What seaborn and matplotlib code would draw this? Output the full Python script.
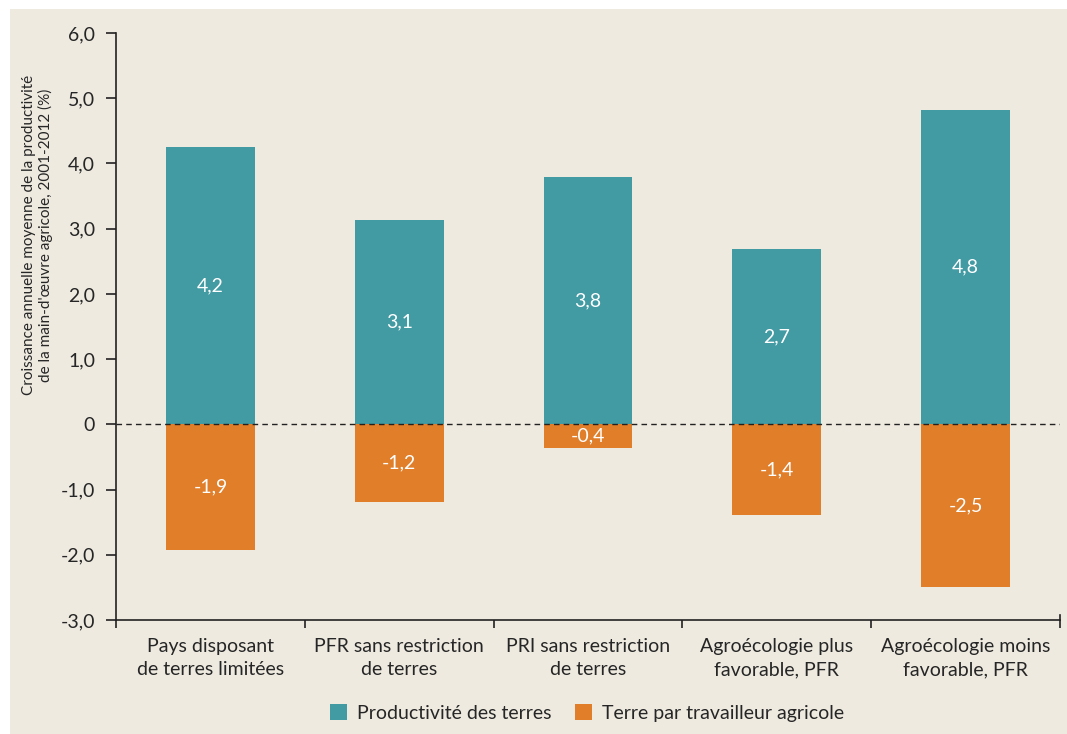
import matplotlib
matplotlib.use('Agg')
import matplotlib.pyplot as plt
from matplotlib.patches import Rectangle
import seaborn as sns
import pandas as pd

# données
categories = ['Pays disposant\nde terres limitées', 'PFR sans restriction\nde terres',
              'PRI sans restriction\nde terres', 'Agroécologie plus\nfavorable, PFR',
              'Agroécologie moins\nfavorable, PFR']
productivite = [4.25, 3.13, 3.79, 2.69, 4.82]
terre_travailleur = [-1.93, -1.19, -0.36, -1.39, -2.50]
labels_prod = ['4,2', '3,1', '3,8', '2,7', '4,8']
labels_terre = ['-1,9', '-1,2', '-0,4', '-1,4', '-2,5']
series = ['Productivité des terres', 'Terre par travailleur agricole']
y_ticks = [-3, -2, -1, 0, 1, 2, 3, 4, 5, 6]
y_ticklabels = ['-3,0', '-2,0', '-1,0', '0', '1,0', '2,0', '3,0', '4,0', '5,0', '6,0']

bg = '#EEEAE0'
colors = ['#429AA3', '#E07E2A']

sns.set_theme(style='ticks')
plt.rcParams['font.family'] = ['Lato', 'DejaVu Sans']

df = pd.DataFrame({
    'cat': categories * 2,
    'val': productivite + terre_travailleur,
    'serie': [series[0]] * 5 + [series[1]] * 5,
})

fig = plt.figure(figsize=(10.67, 7.34), dpi=100, facecolor='white')
fig.patches.append(Rectangle((10 / 1067, 0), 1, 1 - 9 / 734, transform=fig.transFigure,
                             facecolor=bg, edgecolor='none', zorder=-10))
ax = fig.add_axes([116 / 1067, 1 - 620 / 734, (1060 - 116) / 1067, (620 - 33) / 734])
ax.set_facecolor(bg)
ax.set_zorder(1)

sns.barplot(data=df, x='cat', y='val', hue='serie', order=categories, hue_order=series,
            palette=colors, dodge=False, width=0.47, saturation=1, linewidth=0,
            ax=ax, legend=True)

for cont, labs in zip(ax.containers, [labels_prod, labels_terre]):
    ax.bar_label(cont, labels=labs, label_type='center', color='white', fontsize=14)

ax.axhline(0, color='#222222', linestyle=(0, (4, 3)), linewidth=1, zorder=3)

ax.set_ylim(-3, 6)
ax.set_xlim(-0.5, 4.5)
ax.set_yticks(y_ticks)
ax.set_yticklabels(y_ticklabels, fontsize=14)
ax.set_xticks([-0.5, 0.5, 1.5, 2.5, 3.5, 4.5])
ax.set_xticklabels([])
ax.set_xticks(range(5), minor=True)
ax.set_xticklabels(categories, minor=True, fontsize=14, linespacing=1.45)
ax.tick_params(axis='x', which='minor', length=0, pad=13)
ax.tick_params(axis='x', which='major', length=6, width=1.2, color='#222222', direction='out')
ax.tick_params(axis='y', length=7, width=1.2, color='#222222', pad=8)
ax.set_xlabel('')
ax.set_ylabel("Croissance annuelle moyenne de la productivité\nde la main-d'œuvre agricole, 2001-2012 (%)",
              fontsize=11, linespacing=1.15)
ax.yaxis.set_label_coords(-0.067, 0.656)
ax.spines['top'].set_visible(False)
ax.spines['right'].set_bounds(-3, -2.92)
for s in ['left', 'bottom', 'right']:
    ax.spines[s].set_color('#222222')
    ax.spines[s].set_linewidth(1.2)

ax.get_legend().remove()
handles = [Rectangle((0, 0), 1, 1, facecolor=c, edgecolor='none') for c in colors]
fig.legend(handles, series, loc='center', bbox_to_anchor=(0.55, 1 - 713 / 734), ncol=2,
           frameon=False, fontsize=14, handlelength=0.9, handleheight=0.9,
           handletextpad=0.5, columnspacing=1.2)

fig.savefig('out.png', dpi=100, facecolor=fig.get_facecolor())
